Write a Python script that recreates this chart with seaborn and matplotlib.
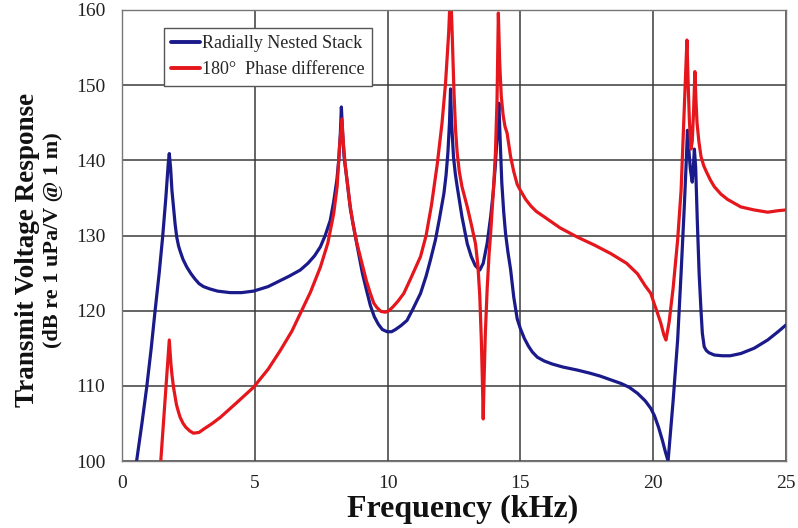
import numpy as np
import pandas as pd
import matplotlib
matplotlib.use("Agg")
import matplotlib.pyplot as plt
from matplotlib.lines import Line2D
import seaborn as sns

# ---- data ----
blue_freq = [0.55, 0.75, 0.93, 1.10, 1.24, 1.40, 1.53, 1.65, 1.74, 1.78, 1.83, 1.88, 1.94, 2.0,
             2.06, 2.13, 2.2, 2.3, 2.44, 2.6, 2.75, 2.9, 3.07, 3.3, 3.6, 4.07, 4.5, 4.95, 5.5,
             5.96, 6.3, 6.71, 7.0, 7.25, 7.47, 7.65, 7.84, 7.97, 8.09, 8.16, 8.22, 8.26, 8.30,
             8.36, 8.47, 8.6, 8.79, 9.05, 9.2, 9.35, 9.5, 9.65, 9.8, 9.98, 10.15, 10.3, 10.5,
             10.73, 10.95, 11.24, 11.45, 11.61, 11.8, 11.95, 12.12, 12.2, 12.27, 12.33, 12.37,
             12.41, 12.48, 12.55, 12.62, 12.8, 13.0, 13.15, 13.3, 13.47, 13.6, 13.75, 13.88,
             13.97, 14.05, 14.12, 14.19, 14.24, 14.3, 14.37, 14.44, 14.53, 14.63, 14.75, 14.88,
             15.0, 15.15, 15.3, 15.45, 15.64, 15.9, 16.2, 16.6, 17.14, 17.6, 18.0, 18.4, 18.8,
             19.1, 19.41, 19.7, 19.91, 20.05, 20.2, 20.35, 20.46, 20.56, 20.75, 20.92, 21.05,
             21.17, 21.24, 21.29, 21.34, 21.4, 21.47, 21.51, 21.55, 21.6, 21.66, 21.73, 21.8,
             21.85, 21.92, 22.0, 22.1, 22.3, 22.6, 22.9, 23.3, 23.8, 24.31, 24.7, 25.0]
blue_db = [100, 105, 109.8, 115, 119.8, 125, 129.8, 135, 139.5, 140.9, 139, 136, 133.8, 131.5,
           129.8, 128.6, 127.8, 126.8, 125.8, 124.9, 124.2, 123.6, 123.2, 122.9, 122.6, 122.4,
           122.4, 122.6, 123.2, 124.0, 124.6, 125.4, 126.3, 127.3, 128.5, 130.0, 132.0, 134.5,
           137.4, 140, 143.5, 147.1, 144, 140.5, 137.4, 133.5, 129.8, 125, 122.8, 120.7, 119.2,
           118.2, 117.5, 117.2, 117.2, 117.5, 118.0, 118.7, 120.2, 122.3, 124.6, 126.7, 129.4,
           132.2, 135.6, 138, 141, 145, 149.5, 145, 140.5, 138.2, 136.5, 132.5, 128.9, 127.2,
           126.0, 125.4, 126.3, 129.0, 132.5, 135.5, 139, 143, 147.6, 142.5, 137, 133.2, 130.3,
           127.8, 125.5, 121.8, 118.9, 117.6, 116.3, 115.3, 114.5, 113.8, 113.3, 112.9, 112.5,
           112.1, 111.7, 111.3, 110.8, 110.3, 109.8, 109.0, 108.0, 107.0, 106.0, 104.5, 102.7,
           101.2, 100, 108, 116.1, 125, 133.8, 139.5, 144.0, 141.5, 138.8, 137.1, 139, 141.5,
           139, 132, 124.9, 120, 117, 115.2, 114.7, 114.4, 114.1, 114.0, 114.0, 114.3, 115,
           116.1, 117.2, 118.1]

red_freq = [1.46, 1.6, 1.72, 1.78, 1.84, 1.88, 1.94, 2.0, 2.05, 2.12, 2.19, 2.3, 2.4, 2.55, 2.69,
            2.9, 3.1, 3.4, 3.70, 4.3, 4.95, 5.5, 5.96, 6.4, 6.71, 7.1, 7.47, 7.75, 7.97, 8.1,
            8.19, 8.28, 8.33, 8.4, 8.47, 8.58, 8.7, 8.83, 8.97, 9.2, 9.35, 9.48, 9.6, 9.75,
            9.92, 10.05, 10.2, 10.4, 10.61, 10.86, 11.05, 11.24, 11.45, 11.65, 11.87, 12.05,
            12.18, 12.3, 12.37, 12.43, 12.5, 12.56, 12.62, 12.7, 12.8, 13.0, 13.15, 13.31, 13.4,
            13.47, 13.53, 13.57, 13.6, 13.63, 13.68, 13.75, 13.82, 13.88, 14.0, 14.06, 14.12,
            14.17, 14.22, 14.28, 14.35, 14.42, 14.5, 14.63, 14.75, 14.88, 15.0, 15.2, 15.4,
            15.6, 15.89, 16.5, 17.14, 17.8, 18.4, 19.0, 19.41, 19.7, 19.91, 20.03, 20.15, 20.29,
            20.4, 20.48, 20.6, 20.75, 20.92, 21.05, 21.17, 21.22, 21.27, 21.31, 21.36, 21.42,
            21.47, 21.52, 21.57, 21.61, 21.65, 21.72, 21.8, 21.9, 22.0, 22.15, 22.3, 22.55, 22.8,
            23.3, 23.8, 24.31, 24.7, 25.0]
red_db = [100, 107, 113, 116.1, 113, 111.5, 109.8, 108.5, 107.5, 106.6, 105.8, 105.0, 104.5,
          104.0, 103.7, 103.8, 104.3, 105.0, 105.8, 107.7, 109.8, 112.2, 114.7, 117.3, 119.6,
          122.5, 125.8, 129, 132.9, 136.5, 141.8, 145.5, 142.5, 139.5, 137.4, 134.2, 131.5, 129.2,
          127.2, 124, 122.3, 121.0, 120.4, 119.9, 119.8, 120.0, 120.5, 121.3, 122.3, 124.2,
          125.7, 127.2, 130.0, 134.0, 139.5, 145.0, 150.2, 157, 163, 157, 149, 144, 141, 138.5,
          136.5, 133.8, 131.5, 128.9, 126, 122, 116, 110.5, 105.6, 110.5, 117, 123, 127.5, 130.3,
          137, 141, 148, 159.6, 153, 148.5, 146, 144.5, 143.6, 140.5, 138.5, 136.8, 136.0, 134.8,
          133.9, 133.2, 132.5, 131, 129.8, 128.7, 127.6, 126.3, 124.9, 123.3, 122.3, 121.0,
          119.8, 118.3, 116.8, 116.1, 118.5, 123, 129.4, 136, 147.1, 151.5, 156, 151, 145.5,
          141.5, 142.5, 146.5, 151.8, 148, 145, 142.5, 140.5, 139.3, 138.5, 137.4, 136.5, 135.5,
          134.8, 133.8, 133.4, 133.1, 133.3, 133.4]

series_names = ["Radially Nested Stack", "180\u00b0  Phase difference"]
series_colors = ["#1a1a8a", "#e5161c"]
x_ticks = [0, 5, 10, 15, 20, 25]
y_ticks = [100, 110, 120, 130, 140, 150, 160]

df = pd.concat([
    pd.DataFrame({"freq": blue_freq, "db": blue_db, "series": series_names[0]}),
    pd.DataFrame({"freq": red_freq, "db": red_db, "series": series_names[1]}),
], ignore_index=True)

sns.set_style("white")
plt.rcParams["font.family"] = ["Liberation Serif", "DejaVu Serif"]

fig = plt.figure(figsize=(7.98, 5.28), dpi=100)
ax = fig.add_axes([122 / 798, 1 - 461 / 528, (786 - 122) / 798, (461 - 10) / 528])

sns.lineplot(data=df, x="freq", y="db", hue="series", palette=series_colors,
             hue_order=series_names, sort=False, estimator=None,
             linewidth=2.3, ax=ax, legend=False)

ax.set_xlim(0, 25)
ax.set_ylim(100, 160)
ax.set_xticks(x_ticks)
ax.set_yticks(y_ticks)
ax.set_xticklabels([str(t) for t in x_ticks], fontsize=14, color="#222222")
ax.set_yticklabels([str(t) for t in y_ticks], fontsize=14, color="#222222")
ax.tick_params(axis="y", direction="out", length=4, width=1, color="#444444", pad=8)
ax.tick_params(axis="x", direction="out", length=4, width=1, color="#444444", pad=6)
ax.grid(True, color="#3a3a3a", linewidth=1.1)
ax.set_axisbelow(True)
for s in ax.spines.values():
    s.set_color("#777777")
    s.set_linewidth(1.0)
ax.set_xlabel("")
ax.set_ylabel("")

handles = [Line2D([0], [0], color=c, lw=2.8) for c in series_colors]
leg = ax.legend(handles, series_names, loc="upper left", bbox_to_anchor=(0.063, 0.96),
                fontsize=13, frameon=True, fancybox=False, framealpha=1,
                edgecolor="#555555", handlelength=1.6, handletextpad=0.1,
                borderpad=0.4, labelspacing=0.5, borderaxespad=0)
leg.get_frame().set_linewidth(1.0)

fig.text(463 / 798, 1 - 517 / 528, "Frequency (kHz)", ha="center", va="baseline",
         fontsize=23, fontweight="bold", color="#111111")
fig.text(28 / 798, 1 - 250 / 528, "Transmit Voltage Response", ha="center", va="center",
         rotation=90, fontsize=19.5, fontweight="bold", color="#111111")
fig.text(53 / 798, 1 - 240 / 528, "(dB re 1 uPa/V @ 1 m)", ha="center", va="center",
         rotation=90, fontsize=16, fontweight="bold", color="#111111")

fig.savefig("out.png", dpi=100, facecolor="white")
